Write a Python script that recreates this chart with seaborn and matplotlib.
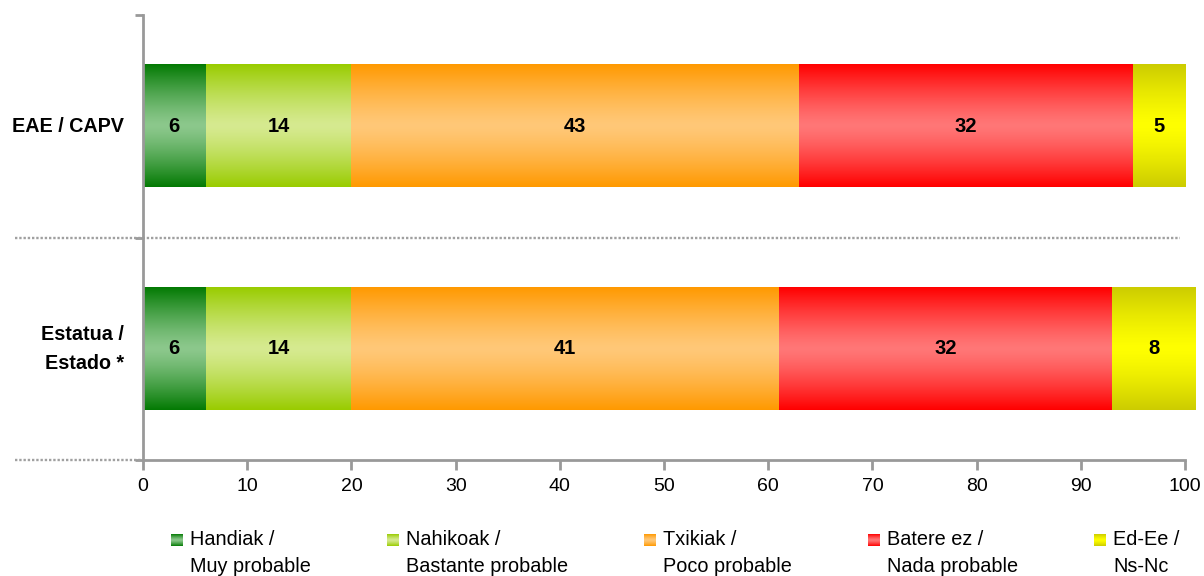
import numpy as np
import pandas as pd
import matplotlib
matplotlib.use("Agg")
import matplotlib.pyplot as plt
import matplotlib.transforms as mtransforms
from matplotlib.colors import to_rgb
import seaborn as sns

# ---------------- data ----------------
categories = ["EAE / CAPV", "Estatua /\nEstado *"]
series_names = ["Handiak /\nMuy probable", "Nahikoak /\nBastante probable",
                "Txikiak /\nPoco probable", "Batere ez /\nNada probable",
                "Ed-Ee /\nNs-Nc"]
handiak = [6, 6]
nahikoak = [14, 14]
txikiak = [43, 41]
batere = [32, 32]
ed_ee = [5, 8]
x_ticks = [0, 10, 20, 30, 40, 50, 60, 70, 80, 90, 100]

# ---------------- style ----------------
edge_colors = ["#037a03", "#99cc00", "#ff9900", "#ff0000", "#cccc00"]
mid_colors = ["#8cc88c", "#d6ea90", "#ffc878", "#ff7777", "#ffff00"]
gray = "#999999"

sns.set_theme(style="white")
plt.rcParams["font.family"] = ["Liberation Sans", "DejaVu Sans"]
plt.rcParams["text.color"] = "black"

fig = plt.figure(figsize=(12.04, 5.76), dpi=100)
ax = fig.add_axes([143 / 1204, 1 - 460 / 576, (1185 - 143) / 1204, (460 - 15) / 576])

values = [handiak, nahikoak, txikiak, batere, ed_ee]
cum = np.cumsum(np.array(values), axis=0)

# stacked bars: draw cumulative totals from largest to smallest
rows = []
for i, name in enumerate(series_names):
    for j, cat in enumerate(categories):
        rows.append({"cat": cat, "series": name, "cum": cum[i, j]})
df = pd.DataFrame(rows)

patches_by_series = {}
for i in reversed(range(len(series_names))):
    sub = df[df["series"] == series_names[i]]
    n_before = len(ax.patches)
    sns.barplot(data=sub, x="cum", y="cat", order=categories, orient="h",
                color=edge_colors[i], width=0.55, ax=ax, saturation=1,
                edgecolor="none", linewidth=0)
    patches_by_series[i] = ax.patches[n_before:]

ax.set_xlim(0, 100)
ax.set_ylim(1.5, -0.5)
xlim = ax.get_xlim(); ylim = ax.get_ylim()


def gradient(edge, mid, n=200):
    e = np.array(to_rgb(edge)); m = np.array(to_rgb(mid))
    t = np.abs(np.linspace(-1, 1, n))
    w = np.clip(t, 0, 1) ** 1.3
    return (m[None, :] * (1 - w[:, None]) + e[None, :] * w[:, None])[:, None, :]


# gradient fill for each segment
for i in range(len(series_names)):
    for j, p in enumerate(patches_by_series[i]):
        p.set_facecolor("none")
        x1 = p.get_x() + p.get_width()
        x0 = patches_by_series[i - 1][j].get_x() + patches_by_series[i - 1][j].get_width() if i > 0 else p.get_x()
        y0 = p.get_y(); y1 = p.get_y() + p.get_height()
        ax.imshow(gradient(edge_colors[i], mid_colors[i]), extent=[x0, x1, y1, y0],
                  aspect="auto", interpolation="bilinear", zorder=2, clip_on=False)
        ax.text((x0 + x1) / 2, (y0 + y1) / 2, f"{values[i][j]:g}", ha="center",
                va="center", fontsize=14.5, fontweight="bold", color="black", zorder=3)

ax.set_xlim(xlim); ax.set_ylim(ylim)

# axes styling
for s in ["top", "right"]:
    ax.spines[s].set_visible(False)
for s in ["left", "bottom"]:
    ax.spines[s].set_color(gray)
    ax.spines[s].set_linewidth(2)
ax.set_xticks(x_ticks)
ax.tick_params(axis="x", which="major", direction="out", length=7, width=2,
               color=gray, labelsize=14, pad=6, bottom=True, labelcolor="black")
ax.set_yticks([0, 1])
ax.set_yticklabels(categories, fontsize=14.2, fontweight="bold", color="black")
for t in ax.get_yticklabels():
    t.set_multialignment("right")
    t.set_linespacing(1.7)
    t.set_verticalalignment("center")
ax.set_yticks([-0.5, 0.5, 1.5], minor=True)
ax.tick_params(axis="y", which="major", length=0, pad=13.5, labelcolor="black")
ax.tick_params(axis="y", which="minor", direction="out", length=6, width=2,
               color=gray, left=True)
ax.set_xlabel(""); ax.set_ylabel("")
ax.grid(False)

# dotted separators
trans = mtransforms.blended_transform_factory(ax.transAxes, ax.transData)
fx0 = (15 - 143) / (1185 - 143)
ax.plot([fx0, (1180 - 143) / (1185 - 143)], [0.5, 0.5], transform=trans,
        color="#a0a0a0", lw=1.7, ls=(0, (1, 0.8)), clip_on=False, zorder=1)
ax.plot([fx0, 0], [1.5, 1.5], transform=trans,
        color="#a0a0a0", lw=1.7, ls=(0, (1, 0.8)), clip_on=False, zorder=1)

# legend (manual layout in pixel coordinates)
lax = fig.add_axes([0, 0, 1, 1], zorder=5)
lax.set_xlim(0, 1204); lax.set_ylim(576, 0); lax.axis("off")
text_x = [190, 406, 663, 887, 1113]
for i, name in enumerate(series_names):
    mx = text_x[i] - 19
    lax.imshow(gradient(edge_colors[i], mid_colors[i]), extent=[mx, mx + 12, 546, 534],
               aspect="auto", interpolation="bilinear")
    lax.text(text_x[i], 530, name, ha="left", va="top", fontsize=14.3,
             linespacing=1.5, color="black")
lax.set_xlim(0, 1204); lax.set_ylim(576, 0)

fig.savefig("out.png", dpi=100)
